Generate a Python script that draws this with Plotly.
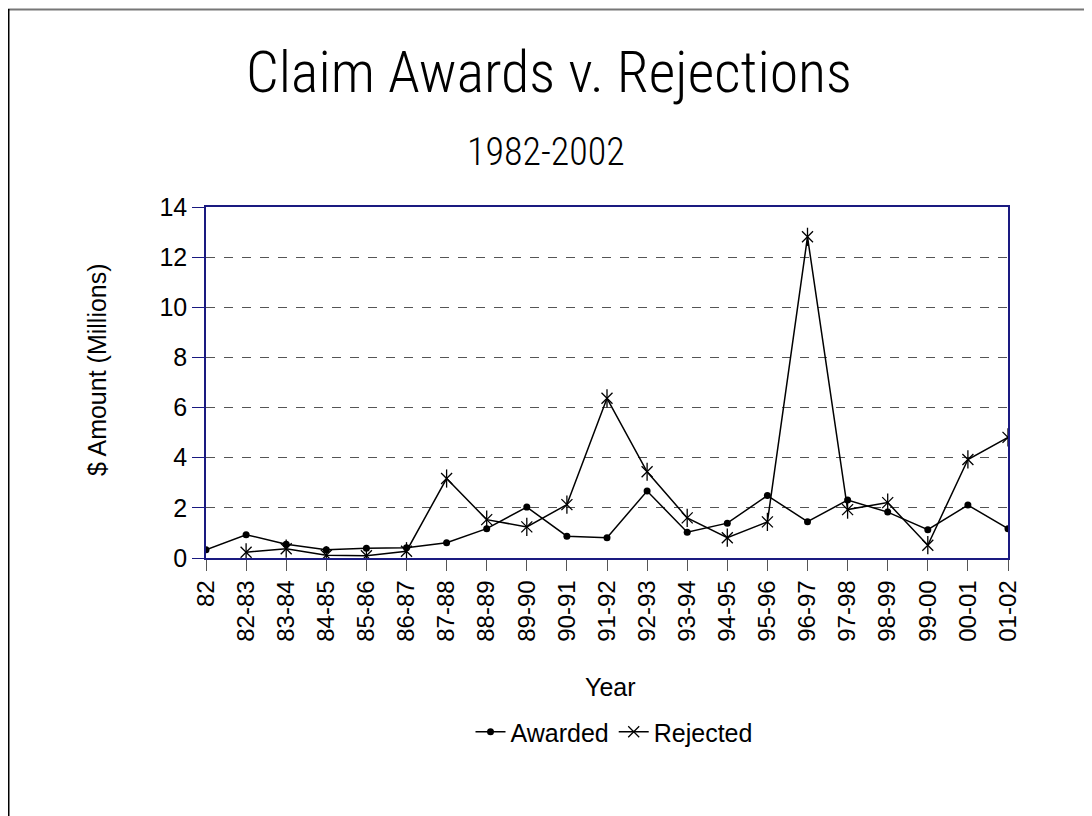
import plotly.graph_objects as go

years = ["82", "82-83", "83-84", "84-85", "85-86", "86-87", "87-88", "88-89", "89-90",
         "90-91", "91-92", "92-93", "93-94", "94-95", "95-96", "96-97", "97-98",
         "98-99", "99-00", "00-01", "01-02"]
awarded = [0.33, 0.93, 0.55, 0.33, 0.39, 0.41, 0.61, 1.17, 2.03, 0.87, 0.81,
           2.67, 1.03, 1.39, 2.49, 1.45, 2.31, 1.83, 1.13, 2.11, 1.17]
rejected = [None, 0.23, 0.37, 0.11, 0.09, 0.27, 3.17, 1.53, 1.24, 2.13, 6.37,
            3.44, 1.60, 0.81, 1.44, 12.81, 1.93, 2.21, 0.51, 3.93, 4.81]
y_ticks = [0, 2, 4, 6, 8, 10, 12, 14]

# page (screen) geometry; the html body has an 8px margin
OFF = 8
W, H = 1092 - OFF, 816 - OFF
L, R, T, B = 206, 1008, 207, 558  # plot area in page pixels


def px(x):
    return (x - L) / (R - L)


def py(y):
    return (B - y) / (B - T)


fig = go.Figure()
fig.add_trace(go.Scatter(
    x=years, y=awarded, name="Awarded", mode="lines+markers",
    line=dict(color="black", width=1.5),
    marker=dict(symbol="circle", size=7, color="black"),
))
fig.add_trace(go.Scatter(
    x=years, y=rejected, name="Rejected", mode="lines+markers",
    line=dict(color="black", width=1.5),
    marker=dict(symbol="x-thin-open", size=11, color="black",
                line=dict(color="black", width=1.3)),
    legendgroup="rej",
))
fig.add_trace(go.Scatter(
    x=years, y=rejected, name="Rejected", mode="markers", showlegend=False,
    marker=dict(symbol="line-ns-open", size=13, color="black",
                line=dict(color="black", width=1.3)),
    legendgroup="rej", hoverinfo="skip",
))

font_title = "Roboto Condensed, Liberation Sans Narrow, Roboto, sans-serif"


def ann(text, x, y, **kw):
    d = dict(text=text, x=px(x), y=py(y), xref="paper", yref="paper",
             xanchor="center", yanchor="middle", showarrow=False)
    d.update(kw)
    return d


fig.update_layout(
    width=W, height=H,
    margin=dict(l=L - OFF, r=W - (R - OFF), t=T - OFF, b=H - (B - OFF)),
    paper_bgcolor="white", plot_bgcolor="white",
    font=dict(family="Liberation Sans, Arial, sans-serif", size=25, color="black"),
    showlegend=True,
    legend=dict(orientation="h", x=px(614), xanchor="center", y=py(732),
                yanchor="middle", font=dict(size=25), itemwidth=30,
                bgcolor="rgba(0,0,0,0)", tracegroupgap=0),
    xaxis=dict(
        type="category", range=[0, len(years) - 1],
        showline=True, linecolor="#1a1a80", linewidth=1.5, mirror=True,
        ticks="outside", ticklen=11, tickcolor="#555", tickwidth=1.3,
        tickangle=-90, tickfont=dict(size=24), showgrid=False,
    ),
    yaxis=dict(
        range=[0, 14], tickvals=y_ticks,
        showline=True, linecolor="#1a1a80", linewidth=1.5, mirror=True,
        ticks="outside", ticklen=12, tickcolor="#1a1a80", tickwidth=1.3,
        tickfont=dict(size=25),
        showgrid=True, gridcolor="#555", griddash="dash", gridwidth=1,
        zeroline=False,
    ),
    annotations=[
        ann("Claim Awards v. Rejections", 549, 72,
            font=dict(family=font_title, size=58, color="black", weight=300)),
        ann("1982-2002", 546, 152,
            font=dict(family=font_title, size=38, color="black", weight=300)),
        ann("Year", 610, 687, font=dict(size=25)),
        ann("$ Amount (Millions)", 97, 370, textangle=-90, font=dict(size=25)),
    ],
    shapes=[
        dict(type="line", xref="paper", yref="paper",
             x0=px(7), x1=px(1092), y0=py(9.5), y1=py(9.5),
             line=dict(color="#777", width=2)),
        dict(type="line", xref="paper", yref="paper",
             x0=px(8.5), x1=px(8.5), y0=py(9), y1=py(816),
             line=dict(color="black", width=2)),
    ],
)

fig.write_html("out.html")
